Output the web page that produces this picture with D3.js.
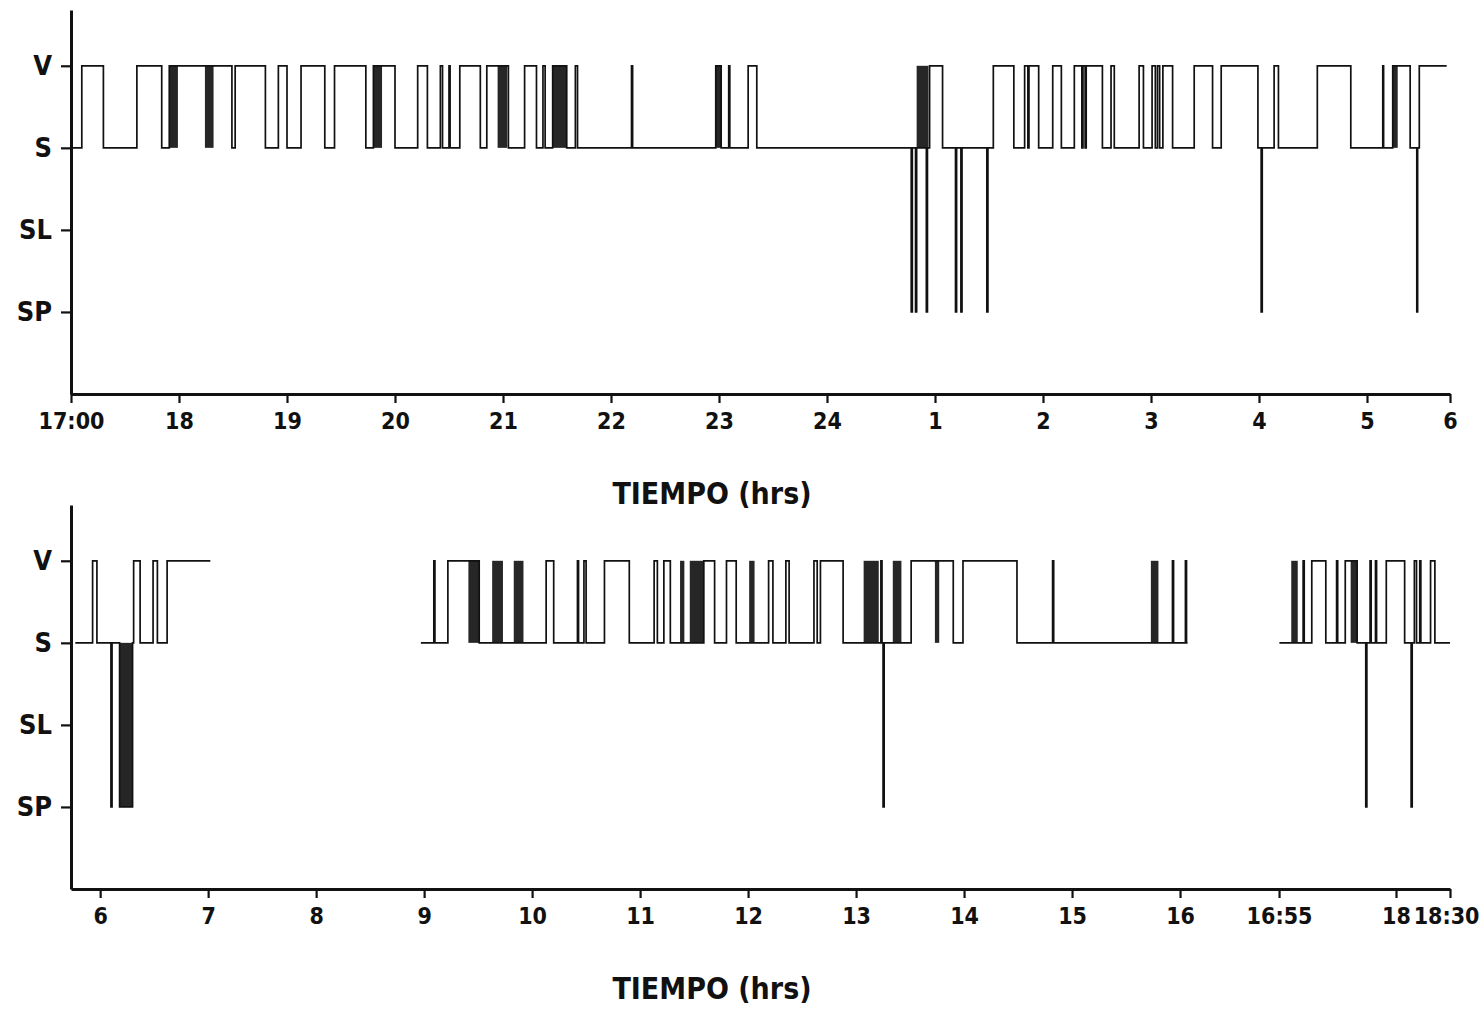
<!DOCTYPE html>
<html>
<head>
<meta charset="utf-8">
<script src="https://cdn.jsdelivr.net/npm/d3@7"></script>
<style>
body { margin: 0; background: #fff; }
svg { display: block; }
.axis path, .axis line { stroke: #111; }
.axis .domain { stroke-width: 3; }
.axis .tick line { stroke-width: 2.2; }
.axis text {
    font-family: "DejaVu Sans Condensed", "Liberation Sans Narrow", sans-serif;
    font-weight: bold;
    fill: #111;
}
.trace { fill: none; stroke: #111; stroke-width: 1.7; }
.dense { fill: #262626; }
.label-text {
    font-family: "DejaVu Sans Condensed", "Liberation Sans Narrow", sans-serif;
    font-weight: bold;
    font-size: 30px;
    fill: #111;
    text-anchor: middle;
}
</style>
</head>
<body>
<div id="chart"></div>
<script>
// sleep / wake states, top to bottom
const levels = ['V', 'S', 'SL', 'SP'];

// top panel: hours counted on from 17:00 (24 = midnight, 30 = 6 am)
const topTicks = [17, 18, 19, 20, 21, 22, 23, 24, 25, 26, 27, 28, 29, 30];
const topTickLabels = ['17:00', '18', '19', '20', '21', '22', '23', '24', '1', '2', '3', '4', '5', '6'];

const bottomTicks = [6, 7, 8, 9, 10, 11, 12, 13, 14, 15, 16, 16.917, 18, 18.5];
const bottomTickLabels = ['6', '7', '8', '9', '10', '11', '12', '13', '14', '15', '16', '16:55', '18', '18:30'];

// state changes [hour, state]
const topSteps = [
    [17.00, 'S'], [17.10, 'V'], [17.30, 'S'], [17.61, 'V'], [17.84, 'S'], [17.91, 'V'],
    [18.49, 'S'], [18.52, 'V'], [18.80, 'S'], [18.92, 'V'], [19.00, 'S'], [19.13, 'V'],
    [19.35, 'S'], [19.44, 'V'], [19.73, 'S'], [19.80, 'V'], [20.00, 'S'], [20.21, 'V'],
    [20.30, 'S'], [20.42, 'V'], [20.44, 'S'], [20.50, 'V'], [20.51, 'S'], [20.60, 'V'],
    [20.79, 'S'], [20.85, 'V'], [21.05, 'S'], [21.20, 'V'], [21.31, 'S'], [21.37, 'V'],
    [21.39, 'S'], [21.46, 'V'], [21.59, 'S'], [21.67, 'V'], [21.69, 'S'], [22.19, 'V'],
    [22.20, 'S'], [22.97, 'V'], [23.02, 'S'], [23.09, 'V'], [23.10, 'S'], [23.27, 'V'],
    [23.35, 'S'], [24.78, 'SP'], [24.79, 'S'], [24.82, 'SP'], [24.83, 'S'], [24.92, 'SP'],
    [24.93, 'S'], [24.95, 'V'], [25.07, 'S'], [25.19, 'SP'], [25.20, 'S'], [25.24, 'SP'],
    [25.25, 'S'], [25.48, 'SP'], [25.49, 'S'], [25.54, 'V'], [25.73, 'S'], [25.83, 'V'],
    [25.86, 'S'], [25.87, 'V'], [25.96, 'S'], [26.09, 'V'], [26.17, 'S'], [26.29, 'V'],
    [26.36, 'S'], [26.37, 'V'], [26.39, 'S'], [26.40, 'V'], [26.55, 'S'], [26.63, 'V'],
    [26.66, 'S'], [26.89, 'V'], [26.93, 'S'], [27.01, 'V'], [27.04, 'S'], [27.06, 'V'],
    [27.08, 'S'], [27.11, 'V'], [27.20, 'S'], [27.40, 'V'], [27.57, 'S'], [27.65, 'V'],
    [27.99, 'S'], [28.02, 'SP'], [28.03, 'S'], [28.14, 'V'], [28.18, 'S'], [28.54, 'V'],
    [28.85, 'S'], [29.19, 'V'], [29.20, 'S'], [29.31, 'V'], [29.52, 'S'], [29.60, 'SP'],
    [29.61, 'S'], [29.63, 'V'], [29.96, 'V']
];

// stretches of rapid switching, drawn solid: [from, to, state reached from S]
const topDense = [
    [17.91, 17.99, 'V'], [18.24, 18.32, 'V'], [19.80, 19.88, 'V'], [20.95, 21.04, 'V'],
    [21.46, 21.59, 'V'], [22.97, 23.02, 'V'], [24.83, 24.94, 'V'], [29.31, 29.37, 'V']
];

const morningSteps = [
    [5.77, 'S'], [5.93, 'V'], [5.97, 'S'], [6.10, 'SP'], [6.11, 'S'], [6.18, 'SP'],
    [6.30, 'S'], [6.31, 'V'], [6.37, 'S'], [6.49, 'V'], [6.53, 'S'], [6.62, 'V'], [7.02, 'V']
];

const daySteps = [
    [8.97, 'S'], [9.09, 'V'], [9.10, 'S'], [9.22, 'V'], [9.51, 'S'], [10.13, 'V'],
    [10.20, 'S'], [10.42, 'V'], [10.43, 'S'], [10.48, 'V'], [10.50, 'S'], [10.67, 'V'],
    [10.90, 'S'], [11.13, 'V'], [11.16, 'S'], [11.22, 'V'], [11.28, 'S'], [11.59, 'V'],
    [11.69, 'S'], [11.80, 'V'], [11.89, 'S'], [12.19, 'V'], [12.23, 'S'], [12.35, 'V'],
    [12.38, 'S'], [12.61, 'V'], [12.64, 'S'], [12.67, 'V'], [12.88, 'S'], [13.23, 'V'],
    [13.24, 'S'], [13.25, 'SP'], [13.26, 'S'], [13.51, 'V'], [13.90, 'S'], [13.99, 'V'],
    [14.49, 'S'], [14.82, 'V'], [14.83, 'S'], [15.93, 'V'], [15.94, 'S'], [16.05, 'V'],
    [16.06, 'S'], [16.07, 'S']
];

const eveningSteps = [
    [16.92, 'S'], [17.14, 'V'], [17.15, 'S'], [17.22, 'V'], [17.35, 'S'], [17.45, 'V'],
    [17.46, 'S'], [17.53, 'V'], [17.64, 'S'], [17.72, 'SP'], [17.73, 'S'], [17.76, 'V'],
    [17.77, 'S'], [17.81, 'V'], [17.82, 'S'], [17.91, 'V'], [18.08, 'S'], [18.14, 'SP'],
    [18.15, 'S'], [18.17, 'V'], [18.19, 'S'], [18.22, 'V'], [18.23, 'S'], [18.32, 'V'],
    [18.36, 'S'], [18.50, 'S']
];

const bottomDense = [
    [6.18, 6.30, 'SP'], [9.41, 9.51, 'V'], [9.63, 9.73, 'V'], [9.83, 9.92, 'V'],
    [11.37, 11.41, 'V'], [11.46, 11.59, 'V'], [12.01, 12.06, 'V'], [13.07, 13.21, 'V'],
    [13.34, 13.42, 'V'], [13.73, 13.77, 'V'], [15.73, 15.80, 'V'], [17.03, 17.09, 'V'],
    [17.58, 17.64, 'V']
];

const margin = { left: 71, top: 10 };
const plotWidth = 1379;
const plotHeight = 384;
const panelGap = 495;
const hourPx = 108;

var svg = d3.select("#chart")
    .append("svg")
    .attr("width", 1479)
    .attr("height", 1014);

var yScale = d3.scaleLinear()
    .domain([-0.68, 4])
    .range([0, plotHeight]);

// top time axis gets squeezed in its last hour
var xTop = d3.scaleLinear()
    .domain([17, 29, 30])
    .range([0, 12 * hourPx, plotWidth]);

var xBottom = d3.scaleLinear()
    .domain([5.73, 18.5])
    .range([0, plotWidth]);

function drawPanel(offsetY, xScale, ticks, tickLabels, segments, dense) {
    var plot = svg.append("g")
        .attr("transform", "translate(" + margin.left + "," + offsetY + ")");

    var line = d3.line()
        .x(d => xScale(d[0]))
        .y(d => yScale(levels.indexOf(d[1])))
        .curve(d3.curveStepAfter);

    plot.append("g").selectAll("rect")
        .data(dense)
        .enter().append("rect")
        .attr("class", "dense")
        .attr("x", d => xScale(d[0]))
        .attr("width", d => xScale(d[1]) - xScale(d[0]))
        .attr("y", d => Math.min(yScale(levels.indexOf(d[2])), yScale(1)))
        .attr("height", d => Math.abs(yScale(levels.indexOf(d[2])) - yScale(1)));

    plot.append("g").selectAll("path")
        .data(segments)
        .enter().append("path")
        .attr("class", "trace")
        .attr("d", line);

    var yAxis = d3.axisLeft(yScale)
        .tickValues([0, 1, 2, 3])
        .tickFormat(i => levels[i])
        .tickSize(10)
        .tickSizeOuter(0)
        .tickPadding(9);

    var yGroup = plot.append("g").attr("class", "axis").call(yAxis);
    yGroup.selectAll("text").style("font-size", "27px");

    var xAxis = d3.axisBottom(xScale)
        .tickValues(ticks)
        .tickFormat((d, i) => tickLabels[i])
        .tickSize(9)
        .tickSizeOuter(0)
        .tickPadding(10);

    var xGroup = plot.append("g")
        .attr("class", "axis")
        .attr("transform", "translate(0," + plotHeight + ")")
        .call(xAxis);
    xGroup.selectAll("text").style("font-size", "23px");

    // last label sits hard against the right edge
    xGroup.selectAll(".tick:last-of-type text")
        .filter(function() { return this.textContent.length > 1; })
        .attr("text-anchor", "end")
        .attr("x", 29);

    plot.append("text")
        .attr("class", "label-text")
        .attr("x", 641)
        .attr("y", plotHeight + 110)
        .text("TIEMPO (hrs)");
}

drawPanel(margin.top, xTop, topTicks, topTickLabels, [topSteps], topDense);
drawPanel(margin.top + panelGap, xBottom, bottomTicks, bottomTickLabels,
    [morningSteps, daySteps, eveningSteps], bottomDense);
</script>
</body>
</html>
